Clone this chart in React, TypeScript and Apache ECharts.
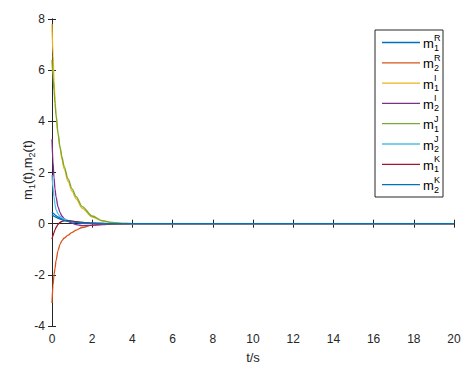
import React, { useEffect, useRef } from "react";
import * as echarts from "echarts";

const times = [0, 0.05, 0.1, 0.15, 0.2, 0.3, 0.4, 0.5, 0.6, 0.8, 1, 1.2, 1.5, 2, 2.5, 3, 3.5, 4, 5, 6, 8, 10, 12, 14, 16, 18, 20];

const m1R = [0.45, 0.41, 0.38, 0.34, 0.31, 0.26, 0.22, 0.19, 0.16, 0.12, 0.09, 0.07, 0.045, 0.02, 0.008, 0.003, 0.001, 0, 0, 0, 0, 0, 0, 0, 0, 0, 0];
const m2R = [-3.1, -2.4, -2.0, -1.75, -1.45, -1.05, -0.8, -0.66, -0.57, -0.45, -0.34, -0.25, -0.15, -0.06, -0.025, -0.01, -0.003, 0, 0, 0, 0, 0, 0, 0, 0, 0, 0];
const m1I = [7.8, 6.6, 5.6, 4.85, 4.25, 3.5, 2.95, 2.5, 2.15, 1.65, 1.27, 0.97, 0.6, 0.26, 0.1, 0.035, 0.01, 0.002, 0, 0, 0, 0, 0, 0, 0, 0, 0];
const m2I = [3.3, 2.4, 1.8, 1.35, 1.05, 0.66, 0.43, 0.29, 0.2, 0.09, 0.02, -0.035, -0.075, -0.065, -0.035, -0.015, -0.005, 0, 0, 0, 0, 0, 0, 0, 0, 0, 0];
const m1J = [6.4, 5.75, 5.2, 4.7, 4.25, 3.55, 3.0, 2.6, 2.25, 1.75, 1.36, 1.06, 0.67, 0.3, 0.12, 0.045, 0.015, 0.004, 0, 0, 0, 0, 0, 0, 0, 0, 0];
const m2J = [1.9, 1.4, 1.05, 0.75, 0.55, 0.38, 0.28, 0.22, 0.18, 0.12, 0.08, 0.055, 0.03, 0.012, 0.004, 0.001, 0, 0, 0, 0, 0, 0, 0, 0, 0, 0, 0];
const m1K = [-0.6, -0.47, -0.35, -0.24, -0.15, -0.03, 0.05, 0.09, 0.11, 0.12, 0.1, 0.075, 0.045, 0.017, 0.006, 0.002, 0, 0, 0, 0, 0, 0, 0, 0, 0, 0, 0];
const m2K = [0.35, 0.32, 0.29, 0.27, 0.25, 0.21, 0.18, 0.15, 0.13, 0.095, 0.07, 0.05, 0.03, 0.012, 0.004, 0.001, 0, 0, 0, 0, 0, 0, 0, 0, 0, 0, 0];

const seriesValues = [m1R, m2R, m1I, m2I, m1J, m2J, m1K, m2K];
const seriesNames = ["m1R", "m2R", "m1I", "m2I", "m1J", "m2J", "m1K", "m2K"];
const legendSup = ["R", "R", "I", "I", "J", "J", "K", "K"];
const legendSub = ["1", "2", "1", "2", "1", "2", "1", "2"];
const colors = ["#0072BD", "#D95319", "#EDB120", "#7E2F8E", "#77AC30", "#4DBEEE", "#A2142F", "#0072BD"];

const FONT = "Liberation Sans, Arial, sans-serif";
const INK = "#262626";

export default function App() {
  const ref = useRef<HTMLDivElement>(null);
  useEffect(() => {
    if (!ref.current) return;
    const chart = echarts.init(ref.current, undefined, { renderer: "svg" });
    const series = seriesValues.map((vals, i) => ({
      name: seriesNames[i],
      type: "line",
      data: times.map((t, j) => [t, vals[j]]),
      showSymbol: false,
      smooth: 0.3,
      smoothMonotone: "x",
      lineStyle: { color: colors[i], width: 1.3 },
      itemStyle: { color: colors[i] },
      xAxisIndex: 0,
      yAxisIndex: 0,
    }));

    const graphics: any[] = [
      {
        type: "text",
        x: 27,
        y: 170,
        rotation: Math.PI / 2,
        style: {
          text: "{a|m}{s|1}{a|(t),m}{s|2}{a|(t)}",
          align: "center",
          verticalAlign: "middle",
          rich: {
            a: { fontFamily: FONT, fontSize: 13, fill: INK, lineHeight: 18, verticalAlign: "middle" },
            s: { fontFamily: FONT, fontSize: 9, fill: INK, lineHeight: 18, verticalAlign: "bottom", padding: [5, 0, 0, 0] },
          },
        },
      },
      {
        type: "rect",
        shape: { x: 375, y: 30, width: 68, height: 167 },
        style: { fill: "#fff", stroke: INK, lineWidth: 1 },
        z: 100,
      },
    ];
    seriesNames.forEach((_, i) => {
      const y = 42.5 + i * 20.3;
      graphics.push({
        type: "line",
        shape: { x1: 382, y1: y, x2: 420, y2: y },
        style: { stroke: colors[i], lineWidth: 1.3 },
        z: 101,
      });
      graphics.push({
        type: "text",
        x: 423,
        y: y + 1,
        style: { text: "m", font: `13px ${FONT}`, fill: "#000", verticalAlign: "middle" },
        z: 101,
      });
      graphics.push({
        type: "text",
        x: 434,
        y: y - 5,
        style: { text: legendSup[i], font: `9px ${FONT}`, fill: "#000", verticalAlign: "middle" },
        z: 101,
      });
      graphics.push({
        type: "text",
        x: 434,
        y: y + 5,
        style: { text: legendSub[i], font: `9px ${FONT}`, fill: "#000", verticalAlign: "middle" },
        z: 101,
      });
    });

    const axisCommon = {
      type: "value",
      splitLine: { show: false },
      axisLine: { show: true, lineStyle: { color: INK, width: 1 } },
      axisTick: { show: true, inside: true, length: 4, lineStyle: { color: INK } },
    };

    chart.setOption({
      animation: false,
      backgroundColor: "#fff",
      grid: { left: 52, right: 20, top: 19, bottom: 40, outerBoundsMode: "none", containLabel: false },
      xAxis: [
        {
          ...axisCommon,
          min: 0,
          max: 20,
          interval: 2,
          name: "t/s",
          nameLocation: "middle",
          nameGap: 25,
          nameTextStyle: { fontFamily: FONT, fontSize: 13, color: INK },
          axisLabel: { fontFamily: FONT, fontSize: 12, color: INK, margin: 7 },
        },
        {
          ...axisCommon,
          position: "top",
          min: 0,
          max: 20,
          interval: 2,
          axisLabel: { show: false },
        },
      ],
      yAxis: [
        {
          ...axisCommon,
          min: -4,
          max: 8,
          interval: 2,
          axisLabel: { fontFamily: FONT, fontSize: 12, color: INK, margin: 7 },
        },
        {
          ...axisCommon,
          position: "right",
          min: -4,
          max: 8,
          interval: 2,
          axisLabel: { show: false },
        },
      ],
      series,
      graphic: graphics,
    });
    return () => chart.dispose();
  }, []);
  return (
    <div
      ref={ref}
      style={{ position: "fixed", left: 0, top: 0, width: 474, height: 366 }}
    />
  );
}
